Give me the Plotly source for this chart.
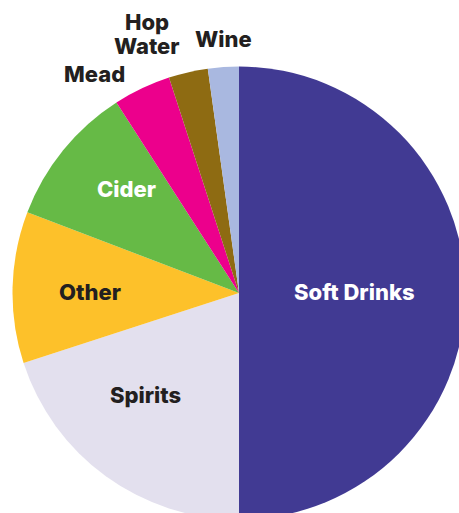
import plotly.graph_objects as go

# Beverage share breakdown
categories = ["Soft Drinks", "Spirits", "Other", "Cider", "Mead", "Hop Water", "Wine"]
shares = [50.0, 20.0, 10.8, 10.1, 4.1, 2.8, 2.2]
slice_colors = ["#413A93", "#E3E0EE", "#FDC12A", "#66BA46", "#EC008C", "#8E6B12", "#A9B8E0"]

# Canvas is slightly larger than the viewport so the pie is cropped on the right and bottom
W, H = 466, 520
cx, cy, r = 239.0, 293.0, 226.5


def px(x):
    return x / W


def py(y):
    return 1 - y / H


fig = go.Figure(
    go.Pie(
        labels=categories,
        values=shares,
        sort=False,
        direction="clockwise",
        rotation=0,
        marker=dict(colors=slice_colors, line=dict(width=0)),
        textinfo="none",
        hoverinfo="label+percent",
        showlegend=False,
        domain=dict(x=[px(cx - r), px(cx + r)], y=[py(cy + r), py(cy - r)]),
    )
)

dark = "#231F20"
labels = [
    ("Soft Drinks", 354, 292, "white"),
    ("Spirits", 145, 395, dark),
    ("Other", 90, 292, dark),
    ("Cider", 126, 189, "white"),
    ("Mead", 94, 74, dark),
    ("Hop", 147, 22, dark),
    ("Water", 147, 46, dark),
    ("Wine", 223, 39, dark),
]
for text, x, y, color in labels:
    fig.add_annotation(
        x=px(x), y=py(y), xref="paper", yref="paper",
        text=text, showarrow=False, xanchor="center", yanchor="middle",
        font=dict(family="Inter", size=22, color=color, weight=800),
    )

fig.update_layout(
    width=W, height=H,
    margin=dict(l=0, r=0, t=0, b=0),
    paper_bgcolor="white",
    plot_bgcolor="white",
)

fig.write_html(
    "out.html",
    post_script="document.body.style.margin='0';document.body.style.overflow='hidden';"
                "document.documentElement.style.overflow='hidden';",
)
